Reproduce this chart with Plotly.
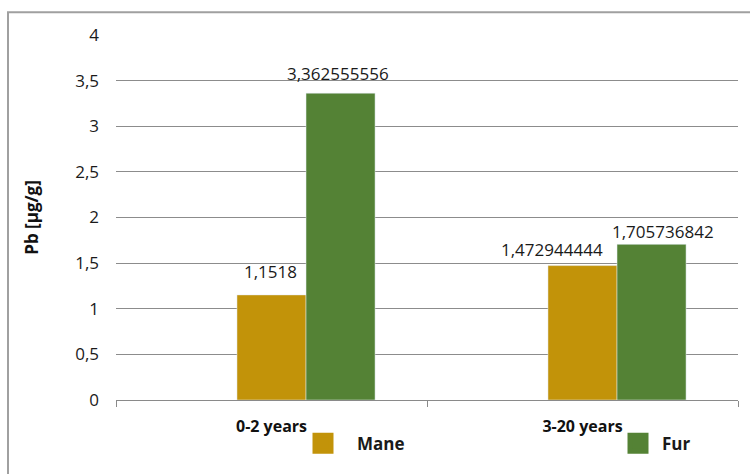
import plotly.graph_objects as go

# Lead (Pb) concentration by age group and sample type
categories = ["0-2 years", "3-20 years"]
mane_values = [1.1518, 1.472944444]
fur_values = [3.362555556, 1.705736842]
y_ticks = [0, 0.5, 1, 1.5, 2, 2.5, 3, 3.5, 4]


def comma(v):
    return f"{v:.10g}".replace(".", ",")


y_tick_text = [comma(v) for v in y_ticks]

MANE = "#C29309"
FUR = "#548235"
FONT = "Open Sans, Lato, sans-serif"
TEXT = "#1a1a1a"

# plot-area geometry (pixels)
W, H = 750, 474
L, R, T, B = 116, 12, 35, 71
pw, ph = W - L - R, H - T - B

BAR_W = 0.222  # bar width in category units

fig = go.Figure()
fig.add_trace(go.Bar(
    name="Mane", x=categories, y=mane_values, marker_color=MANE,
    width=BAR_W, offset=-BAR_W / 2, showlegend=False,
))
fig.add_trace(go.Bar(
    name="Fur", x=categories, y=fur_values, marker_color=FUR,
    width=BAR_W, offset=BAR_W / 2, showlegend=False,
))

# legend entries (large square swatches), one legend box per series
fig.add_trace(go.Scatter(
    name="Mane", x=[None], y=[None], mode="markers", legend="legend",
    marker=dict(symbol="square", size=16, color=MANE,
                line=dict(color=MANE, width=5)),
))
fig.add_trace(go.Scatter(
    name="Fur", x=[None], y=[None], mode="markers", legend="legend2",
    marker=dict(symbol="square", size=16, color=FUR,
                line=dict(color=FUR, width=5)),
))

# value labels: (series values, pixel shift from category centre, lift above bar)
label_specs = [
    (mane_values, [-1, -31], [23, 16]),
    (fur_values, [66, 80], [20, 13]),
]
annotations = []
for values, xshifts, yshifts in label_specs:
    for cat, v, dx, dy in zip(categories, values, xshifts, yshifts):
        annotations.append(dict(
            x=cat, y=v, xref="x", yref="y", text=comma(v),
            showarrow=False, xanchor="center", yanchor="middle",
            xshift=dx, yshift=dy,
            font=dict(size=17, family=FONT, color=TEXT),
        ))

legend_common = dict(
    orientation="h", xanchor="left", yanchor="middle",
    font=dict(size=17, family=FONT, color=TEXT, weight="bold"),
    bgcolor="rgba(0,0,0,0)",
)

fig.update_layout(
    width=W, height=H,
    margin=dict(l=L, r=R, t=T, b=B),
    paper_bgcolor="white", plot_bgcolor="white",
    font=dict(family=FONT, size=16, color=TEXT),
    barmode="overlay",
    legend=dict(x=(289 - L) / pw, y=(403 - 447) / ph, itemwidth=58,
                **legend_common),
    legend2=dict(x=(614 - L) / pw, y=(403 - 447) / ph, itemwidth=38,
                 **legend_common),
    annotations=annotations,
    xaxis=dict(
        type="category", range=[-0.5, 1.5],
        showline=True, linecolor="#8a8a8a", linewidth=1,
        ticks="outside", tickson="boundaries", ticklen=6, tickcolor="#8a8a8a",
        ticklabelstandoff=12,
        tickfont=dict(size=16, family=FONT, color="#111", weight="bold"),
        showgrid=False,
    ),
    yaxis=dict(
        range=[0, 4], tickvals=y_ticks, ticktext=y_tick_text,
        showgrid=True, gridcolor="#8c8c8c", gridwidth=1,
        zeroline=False, showline=False, ticks="",
        ticklabelstandoff=16,
        tickfont=dict(size=17, family=FONT, color=TEXT),
        title=dict(text="Pb [µg/g]", standoff=32,
                   font=dict(size=17, family=FONT, color="#111", weight="bold")),
    ),
    shapes=[dict(
        type="rect", xref="paper", yref="paper",
        x0=(8 - L) / pw, x1=(770 - L) / pw,
        y0=(403 - 490) / ph, y1=(403 - 12) / ph,
        line=dict(color="#a0a0a0", width=2), fillcolor="rgba(0,0,0,0)",
        layer="below",
    )],
)

fig.write_html("out.html")
